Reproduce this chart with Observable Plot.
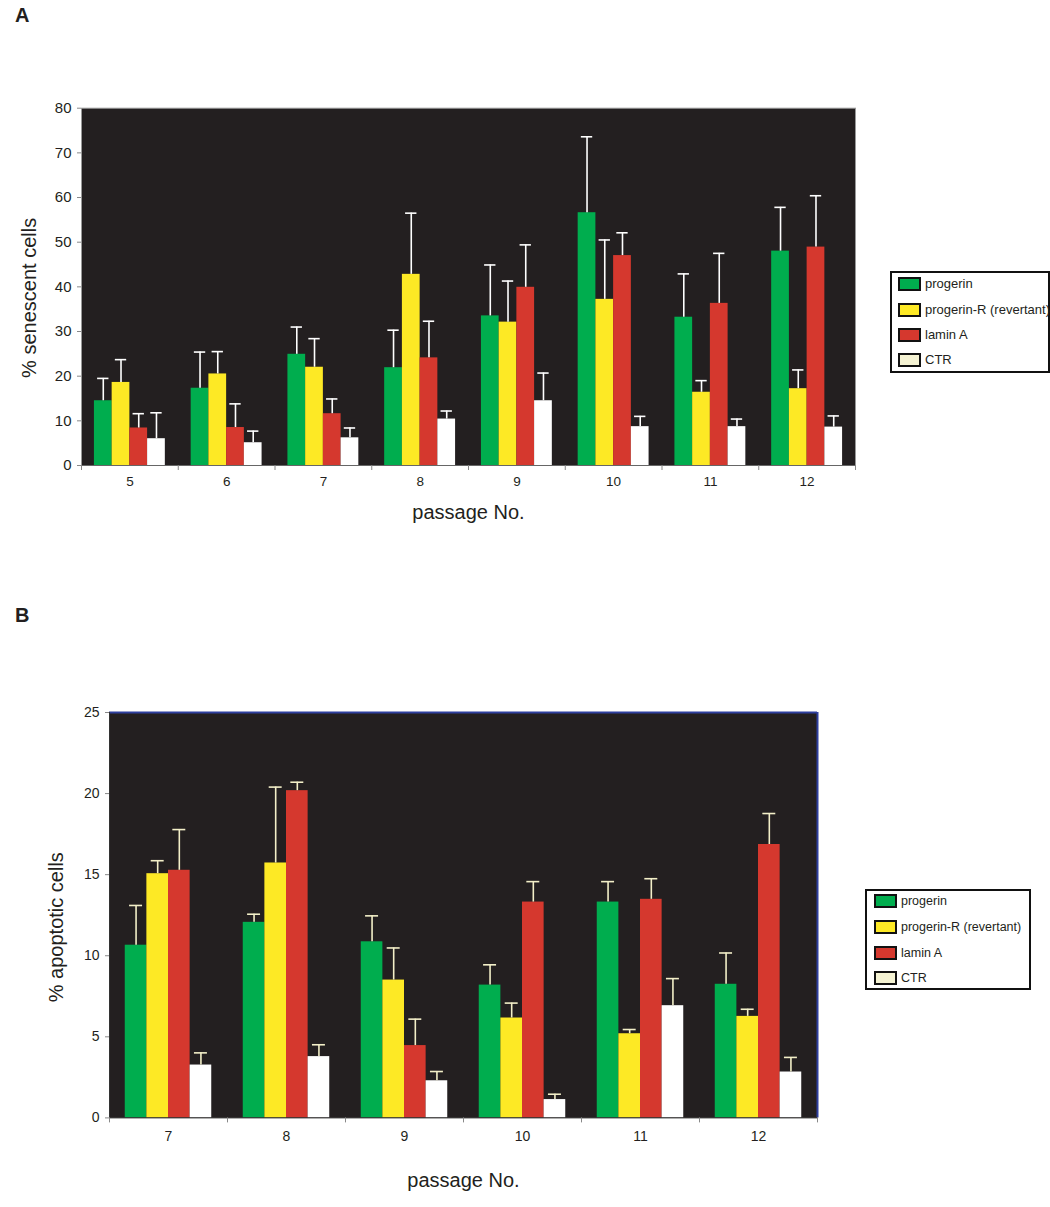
<!DOCTYPE html>
<html><head><meta charset="utf-8">
<script src="https://cdn.jsdelivr.net/npm/d3@7"></script>
<script src="https://cdn.jsdelivr.net/npm/@observablehq/plot@0.6"></script>
<style>
body{margin:0;background:#fff;font-family:"Liberation Sans",Arial,sans-serif;color:#231f20;}
#page{position:relative;width:1050px;height:1207px;overflow:hidden;}
.abs{position:absolute;}
.panel-label{position:absolute;font-weight:bold;font-size:20px;line-height:20px;}
.legend{position:absolute;border:2px solid #111;background:#fff;box-sizing:border-box;}
.legend .item{position:absolute;left:0;display:flex;align-items:center;white-space:nowrap;}
.legend .swatch{border:2px solid #111;box-sizing:border-box;flex:none;}
</style></head><body><div id="page"></div>
<script>
// ---------- data ----------
const series = ["progerin", "progerin-R (revertant)", "lamin A", "CTR"];
const barColors = ["#00ad4e", "#fde925", "#d5382e", "#ffffff"];
const legendColors = ["#00ad4e", "#fde925", "#d5382e", "#f5f3d3"];

// Panel A: % senescent cells
const passagesA = [5, 6, 7, 8, 9, 10, 11, 12];
const progerinA  = [14.5, 17.3, 24.9, 21.9, 33.5, 56.6, 33.2, 48.0];
const progerinAerr = [5.0, 8.1, 6.1, 8.4, 11.4, 17.0, 9.7, 9.8];
const revertantA = [18.6, 20.5, 22.0, 42.8, 32.1, 37.2, 16.4, 17.2];
const revertantAerr = [5.1, 5.0, 6.4, 13.7, 9.2, 13.3, 2.6, 4.2];
const laminA_A   = [8.4, 8.5, 11.6, 24.1, 39.9, 47.0, 36.3, 48.9];
const laminA_Aerr = [3.2, 5.3, 3.3, 8.2, 9.5, 5.1, 11.2, 11.5];
const ctrA       = [6.0, 5.1, 6.2, 10.4, 14.5, 8.7, 8.7, 8.6];
const ctrAerr    = [5.8, 2.6, 2.2, 1.8, 6.2, 2.3, 1.7, 2.5];
const yTicksA = [0, 10, 20, 30, 40, 50, 60, 70, 80];

// Panel B: % apoptotic cells
const passagesB = [7, 8, 9, 10, 11, 12];
const progerinB  = [10.65, 12.06, 10.86, 8.19, 13.31, 8.24];
const progerinBerr = [2.45, 0.50, 1.60, 1.25, 1.26, 1.93];
const revertantB = [15.06, 15.72, 8.50, 6.16, 5.19, 6.26];
const revertantBerr = [0.80, 4.68, 1.98, 0.92, 0.26, 0.44];
const laminA_B   = [15.27, 20.18, 4.46, 13.31, 13.48, 16.86];
const laminA_Berr = [2.51, 0.52, 1.63, 1.26, 1.27, 1.91];
const ctrB       = [3.26, 3.78, 2.29, 1.13, 6.92, 2.83];
const ctrBerr    = [0.75, 0.73, 0.57, 0.33, 1.67, 0.90];
const yTicksB = [0, 5, 10, 15, 20, 25];

// ---------- helpers ----------
function rowsOf(passages, vals, errs) {
  const rows = [];
  passages.forEach((p, j) => {
    series.forEach((s, i) => {
      rows.push({passage: p, series: s, i, value: vals[i][j], err: errs[i][j]});
    });
  });
  return rows;
}

const groupWidth = 0.733;            // fraction of each passage band filled by bars
const bw = groupWidth / series.length;
const X1 = d => d.passage - groupWidth / 2 + d.i * bw;
const XC = d => X1(d) + bw / 2;

function panel(cfg) {
  const {rows, passages, yTicks, width, height, margin, frameFill, frameStroke, yFont, xFont, xPad,
         errColor, capFrac, ylabel, ylabelSize, ylabelDx, ylabelDy, xlabelDy, extra} = cfg;
  const boundaries = [passages[0] - 0.5, ...passages.map(p => p + 0.5)];
  const cap = bw * capFrac;
  return Plot.plot({
    width, height,
    marginLeft: margin[3], marginRight: margin[1], marginTop: margin[0], marginBottom: margin[2],
    x: {domain: [passages[0] - 0.5, passages[passages.length - 1] + 0.5], axis: null},
    y: {domain: [yTicks[0], yTicks[yTicks.length - 1]], axis: null},
    color: {domain: series, range: barColors},
    style: {fontFamily: "Liberation Sans, Arial, sans-serif", fontSize: "13px", background: "transparent", color: "#231f20", overflow: "visible"},
    marks: [
      Plot.frame({fill: frameFill, stroke: frameStroke}),
      Plot.rect(rows, {x1: X1, x2: d => X1(d) + bw, y1: () => 0, y2: "value", fill: "series"}),
      Plot.ruleX(rows, {x: XC, y1: "value", y2: d => d.value + d.err, stroke: errColor, strokeWidth: 1.6}),
      Plot.ruleY(rows, {y: d => d.value + d.err, x1: d => XC(d) - cap, x2: d => XC(d) + cap, stroke: errColor, strokeWidth: 1.6}),
      ...extra,
      Plot.axisY({ticks: yTicks, tickSize: 4, tickPadding: 6, stroke: "#888", color: "#231f20", fontSize: yFont, label: null, tickFormat: d => d}),
      Plot.axisX({ticks: passages, tickSize: 0, tickPadding: xPad, fontSize: xFont, tickFormat: d => d, label: null}),
      Plot.axisX({ticks: boundaries, tickSize: 5, tickFormat: () => "", stroke: "#888", label: null}),
      Plot.text([ylabel], {frameAnchor: "left", textAnchor: "middle", lineAnchor: "middle", rotate: -90, dx: ylabelDx, dy: ylabelDy, fontSize: ylabelSize, fill: "#231f20"}),
      Plot.text(["passage No."], {frameAnchor: "bottom", textAnchor: "middle", lineAnchor: "middle", dy: xlabelDy, fontSize: 20, fill: "#231f20"})
    ]
  });
}

function legend(left, top, w, h, centers, swX, swW, swH, txtX, fontSize) {
  const L = document.createElement("div");
  L.className = "legend";
  Object.assign(L.style, {left: left + "px", top: top + "px", width: w + "px", height: h + "px"});
  series.forEach((s, i) => {
    const it = document.createElement("div");
    it.className = "item";
    it.style.top = (centers[i] - 2 - 10) + "px";
    it.style.height = "20px";
    const sw = document.createElement("div");
    sw.className = "swatch";
    Object.assign(sw.style, {width: swW + "px", height: swH + "px", background: legendColors[i], marginLeft: (swX - 2) + "px", marginRight: (txtX - swX - swW) + "px"});
    const t = document.createElement("span");
    t.textContent = s;
    t.style.fontSize = fontSize + "px";
    it.appendChild(sw); it.appendChild(t);
    L.appendChild(it);
  });
  return L;
}

const page = document.getElementById("page");

// ---------- Panel A ----------
const rowsA = rowsOf(passagesA, [progerinA, revertantA, laminA_A, ctrA], [progerinAerr, revertantAerr, laminA_Aerr, ctrAerr]);
const plotA = panel({
  rows: rowsA, passages: passagesA, yTicks: yTicksA,
  width: 870, height: 540, margin: [107.7, 15, 75, 81],
  frameFill: "#231f20", frameStroke: "#999", yFont: 15, xFont: 13.5, xPad: 11,
  errColor: "#ffffff", capFrac: 0.32,
  ylabel: "% senescent cells", ylabelSize: 20, ylabelDx: -52, ylabelDy: 11, xlabelDy: 47,
  extra: [Plot.ruleY([0], {stroke: "#666"})]
});
plotA.classList.add("abs");
Object.assign(plotA.style, {left: "0px", top: "0px"});
page.appendChild(plotA);

// ---------- Panel B ----------
const rowsB = rowsOf(passagesB, [progerinB, revertantB, laminA_B, ctrB], [progerinBerr, revertantBerr, laminA_Berr, ctrBerr]);
const plotB = panel({
  rows: rowsB, passages: passagesB, yTicks: yTicksB,
  width: 830, height: 647, margin: [152, 13, 89.6, 109],
  frameFill: "#231f20", frameStroke: "none", yFont: 14, xFont: 14, xPad: 13,
  errColor: "#f3efc8", capFrac: 0.3,
  ylabel: "% apoptotic cells", ylabelSize: 20, ylabelDx: -53, ylabelDy: 12, xlabelDy: 62.5,
  extra: [
    Plot.ruleY([yTicksB[yTicksB.length - 1]], {stroke: "#2e3f9e", strokeWidth: 2}),
    Plot.ruleX([passagesB[passagesB.length - 1] + 0.5], {stroke: "#2e3f9e", strokeWidth: 2}),
    Plot.ruleY([0], {stroke: "#333"}),
    Plot.ruleX([passagesB[0] - 0.5], {stroke: "#333"})
  ]
});
plotB.classList.add("abs");
Object.assign(plotB.style, {left: "0px", top: "560px"});
page.appendChild(plotB);

// ---------- labels & legends ----------
const la = document.createElement("div"); la.className = "panel-label"; la.textContent = "A";
Object.assign(la.style, {left: "15px", top: "5px"}); page.appendChild(la);
const lb = document.createElement("div"); lb.className = "panel-label"; lb.textContent = "B";
Object.assign(lb.style, {left: "15px", top: "605px"}); page.appendChild(lb);

page.appendChild(legend(890, 271, 160, 102, [12.6, 38.6, 63.6, 88.6], 8, 23, 14, 35, 13));
page.appendChild(legend(865, 889, 166, 101, [12, 38, 64, 89], 9, 23, 14, 36, 12.5));
</script>
</body></html>
